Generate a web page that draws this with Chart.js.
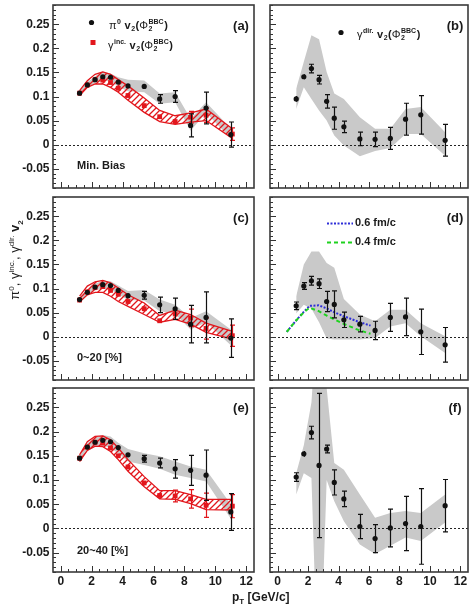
<!DOCTYPE html>
<html><head><meta charset="utf-8">
<script src="https://cdn.jsdelivr.net/npm/chart.js@4.4.0/dist/chart.umd.min.js"></script>
<style>
html,body{margin:0;padding:0;background:#fff;}
#wrap{position:relative;width:474px;height:612px;overflow:hidden;font-family:"Liberation Sans",Arial,sans-serif;}
canvas{position:absolute;}
.t{position:absolute;white-space:nowrap;color:#1a1a1a;}
#ytitle{left:-45px;top:252px;width:120px;height:16px;line-height:16px;text-align:center;transform:rotate(-90deg);font-size:13px;}
#xtitle{left:232px;top:590px;font-size:12px;font-weight:bold;}
sup,sub{font-size:8px;line-height:0;}
</style></head><body>
<div id="wrap">
<canvas id="ca" width="258" height="192" style="left:0;top:0"></canvas>
<canvas id="cb" width="206" height="192" style="left:266px;top:0"></canvas>
<canvas id="cc" width="258" height="192" style="left:0;top:192px"></canvas>
<canvas id="cd" width="206" height="192" style="left:266px;top:192px"></canvas>
<canvas id="ce" width="258" height="229" style="left:0;top:383px"></canvas>
<canvas id="cf" width="206" height="229" style="left:266px;top:383px"></canvas>
<div class="t" id="ytitle">π<sup>0</sup>, γ<sup>inc.</sup>, γ<sup>dir.</sup> <b>v</b><sub><b>2</b></sub></div>
<div class="t" id="xtitle">p<sub>T</sub> [GeV/c]</div>
</div>
<script>
// ---------------- data ----------------
const pT    = [1.22, 1.72, 2.22, 2.72, 3.22, 3.72, 4.35, 5.4, 6.4, 7.4, 8.4, 9.4, 11.0];
const pTInc = [1.22, 1.72, 2.22, 2.72, 3.22, 3.72, 4.35, 5.4, 6.4, 7.4, 8.4, 9.4, 11.1];
const yTicks = [-0.05, 0, 0.05, 0.1, 0.15, 0.2, 0.25];
const yTickLabels = ['-0.05', '0', '0.05', '0.1', '0.15', '0.2', '0.25'];
const xTicks = [0, 2, 4, 6, 8, 10, 12];
const xTickLabels = ['0', '2', '4', '6', '8', '10', '12'];

// (a) Min. Bias
const pi0A      = [0.107, 0.124, 0.135, 0.141, 0.140, 0.130, 0.122, 0.121, 0.095, 0.100, 0.040, 0.076, 0.021];
const pi0AErr   = [0.002, 0.002, 0.002, 0.002, 0.002, 0.002, 0.003, 0.004, 0.009, 0.012, 0.024, 0.033, 0.026];
const pi0ASysHi = [0.112, 0.130, 0.142, 0.152, 0.148, 0.140, 0.135, 0.133, 0.106, 0.109, 0.054, 0.088, 0.033];
const pi0ASysLo = [0.102, 0.118, 0.128, 0.132, 0.132, 0.120, 0.111, 0.109, 0.085, 0.088, 0.029, 0.066, 0.013];
const incA      = [0.107, 0.124, 0.135, 0.134, 0.129, 0.117, 0.102, 0.081, 0.058, 0.048, 0.057, 0.061, 0.022];
const incAErr   = [0.003, 0.003, 0.003, 0.003, 0.003, 0.003, 0.003, 0.004, 0.004, 0.005, 0.012, 0.015, 0.013];
const incASysHi = [0.112, 0.133, 0.146, 0.151, 0.146, 0.135, 0.122, 0.097, 0.071, 0.060, 0.066, 0.074, 0.033];
const incASysLo = [0.102, 0.119, 0.126, 0.126, 0.119, 0.109, 0.092, 0.067, 0.048, 0.042, 0.047, 0.050, 0.013];
// (b) Min. Bias direct photon
const dirB      = [0.095, 0.141, 0.158, 0.135, 0.090, 0.055, 0.037, 0.012, 0.011, 0.013, 0.053, 0.062, 0.009];
const dirBErr   = [0.006, 0.005, 0.009, 0.009, 0.014, 0.023, 0.012, 0.014, 0.015, 0.023, 0.033, 0.040, 0.033];
const dirBSysHi = [0.116, 0.172, 0.227, 0.219, 0.151, 0.106, 0.095, 0.057, 0.033, 0.033, 0.074, 0.078, 0.026];
const dirBSysLo = [0.074, 0.119, 0.095, 0.071, 0.050, 0.019, -0.002, -0.024, -0.013, -0.007, 0.022, 0.022, -0.023];
// (c) 0-20%
const pi0C      = [0.077, 0.092, 0.103, 0.108, 0.106, 0.096, 0.085, 0.086, 0.066, 0.058, 0.026, 0.040, -0.003];
const pi0CErr   = [0.002, 0.002, 0.002, 0.002, 0.002, 0.003, 0.004, 0.008, 0.016, 0.022, 0.039, 0.053, 0.040];
const pi0CSysHi = [0.082, 0.098, 0.110, 0.116, 0.115, 0.106, 0.095, 0.097, 0.077, 0.066, 0.039, 0.053, 0.015];
const pi0CSysLo = [0.072, 0.086, 0.096, 0.100, 0.098, 0.088, 0.076, 0.075, 0.053, 0.047, 0.015, 0.030, -0.018];
const incC      = [0.076, 0.093, 0.102, 0.104, 0.096, 0.088, 0.073, 0.058, 0.033, 0.047, 0.039, 0.017, 0.002];
const incCErr   = [0.003, 0.003, 0.003, 0.003, 0.003, 0.003, 0.003, 0.004, 0.004, 0.005, 0.018, 0.022, 0.022];
const incCSysHi = [0.084, 0.105, 0.114, 0.117, 0.112, 0.101, 0.087, 0.070, 0.044, 0.055, 0.046, 0.028, 0.011];
const incCSysLo = [0.072, 0.087, 0.092, 0.092, 0.084, 0.073, 0.063, 0.046, 0.030, 0.036, 0.026, 0.009, -0.005];
// (d) 0-20% direct photon + theory
const dirD      = [0.064, 0.105, 0.116, 0.110, 0.073, 0.067, 0.035, 0.026, 0.013, 0.040, 0.041, 0.010, -0.017];
const dirDErr   = [0.008, 0.007, 0.009, 0.010, 0.021, 0.028, 0.016, 0.016, 0.019, 0.029, 0.039, 0.047, 0.036];
const dirDSysHi = [0.084, 0.150, 0.177, 0.177, 0.153, 0.143, 0.078, 0.046, 0.032, 0.056, 0.056, 0.028, 0.001];
const dirDSysLo = [0.048, 0.066, 0.058, 0.030, -0.004, -0.006, -0.006, -0.006, -0.003, 0.021, 0.028, 0.001, -0.034];
const pTTheory  = [0.6, 1.2, 1.7, 2.1, 2.7, 3.2, 3.7, 4.3, 5.3, 6.1];
const theory06  = [0.010, 0.033, 0.051, 0.064, 0.065, 0.059, 0.051, 0.043, 0.031, 0.023];
const theory04  = [0.010, 0.033, 0.050, 0.060, 0.053, 0.044, 0.036, 0.027, 0.014, 0.006];
// (e) 20-40%
const pi0E      = [0.145, 0.168, 0.178, 0.182, 0.179, 0.167, 0.152, 0.144, 0.135, 0.123, 0.120, 0.110, 0.034];
const pi0EErr   = [0.003, 0.003, 0.003, 0.003, 0.003, 0.003, 0.003, 0.007, 0.010, 0.019, 0.031, 0.052, 0.038];
const pi0ESysHi = [0.150, 0.176, 0.188, 0.193, 0.190, 0.177, 0.164, 0.155, 0.149, 0.138, 0.128, 0.121, 0.050];
const pi0ESysLo = [0.140, 0.160, 0.168, 0.171, 0.166, 0.155, 0.138, 0.131, 0.123, 0.111, 0.104, 0.097, 0.020];
const incE      = [0.145, 0.168, 0.178, 0.176, 0.166, 0.150, 0.127, 0.094, 0.068, 0.067, 0.061, 0.048, 0.046];
const incEErr   = [0.004, 0.003, 0.003, 0.003, 0.003, 0.003, 0.003, 0.004, 0.004, 0.012, 0.019, 0.025, 0.024];
const incESysHi = [0.152, 0.179, 0.190, 0.191, 0.183, 0.166, 0.142, 0.107, 0.078, 0.078, 0.070, 0.060, 0.060];
const incESysLo = [0.138, 0.161, 0.170, 0.169, 0.159, 0.142, 0.118, 0.086, 0.061, 0.060, 0.051, 0.039, 0.038];
// (f) 20-40% direct photon
const dirF      = [0.106, 0.154, 0.198, 0.130, 0.164, 0.095, 0.061, 0.004, -0.021, 0.001, 0.010, 0.004, 0.047];
const dirFErr   = [0.009, 0.006, 0.013, 0.149, 0.008, 0.026, 0.016, 0.025, 0.029, 0.039, 0.056, 0.078, 0.054];
const dirFSysHi = [0.114, 0.172, 0.260, 0.500, 0.290, 0.135, 0.121, 0.070, 0.022, 0.032, 0.036, 0.032, 0.070];
const dirFSysLo = [0.070, 0.114, 0.104, -0.380, 0.100, 0.056, 0.015, -0.033, -0.053, -0.036, -0.019, -0.026, 0.012];

// ---------------- style ----------------
const FF = '"Liberation Sans", Arial, sans-serif';
const RED = '#e2161c', BLACK = '#111111', GREY = '#c9c9c9';
const BLUE = '#2e2ed8', GREEN = '#1fd21f';

function makeHatch() {
  const c = document.createElement('canvas');
  c.width = 6; c.height = 6;
  const g = c.getContext('2d');
  g.strokeStyle = RED; g.lineWidth = 1.3;
  g.beginPath();
  g.moveTo(0, 6); g.lineTo(6, 0);
  g.moveTo(-1, 1); g.lineTo(1, -1);
  g.moveTo(5, 7); g.lineTo(7, 5);
  g.stroke();
  return g.createPattern(c, 'repeat');
}
const HATCH = makeHatch();

const pts = (xs, ys) => xs.map((x, i) => ({x: x, y: ys[i]}));
function pointsDS(xs, ys, errs, style, color, r) {
  return {data: pts(xs, ys), showLine: false, pointStyle: style, pointRadius: r,
    pointBackgroundColor: color, pointBorderColor: color, pointBorderWidth: 0,
    errs: errs, errColor: color};
}
function lineDS(xs, ys, color, width, dash, fill, bg) {
  return {data: pts(xs, ys), showLine: true, pointRadius: 0, borderColor: color,
    borderWidth: width, borderDash: dash || [], fill: fill || false,
    backgroundColor: bg || 'rgba(0,0,0,0)', tension: 0};
}

const errPlugin = {
  id: 'errbars',
  beforeDatasetDraw(chart, args) {
    const ds = chart.data.datasets[args.index];
    if (!ds.errs) return;
    const ctx = chart.ctx, ys = chart.scales.y, a = chart.chartArea;
    ctx.save();
    ctx.beginPath(); ctx.rect(a.left, a.top, a.right - a.left, a.bottom - a.top); ctx.clip();
    ctx.strokeStyle = ds.errColor; ctx.lineWidth = 1.2;
    ctx.beginPath();
    args.meta.data.forEach((el, i) => {
      const v = ds.data[i].y, e = ds.errs[i];
      const y1 = ys.getPixelForValue(v + e), y2 = ys.getPixelForValue(v - e);
      const x = Math.round(el.x) + 0.5;
      ctx.moveTo(x, y1); ctx.lineTo(x, y2);
      if (Math.abs(y2 - y1) > 6) {
        ctx.moveTo(x - 2.5, y1); ctx.lineTo(x + 2.5, y1);
        ctx.moveTo(x - 2.5, y2); ctx.lineTo(x + 2.5, y2);
      }
    });
    ctx.stroke();
    ctx.restore();
  }
};

const framePlugin = {
  id: 'frame',
  afterDatasetsDraw(chart) {
    const {ctx, chartArea: a} = chart;
    const x = chart.scales.x, y = chart.scales.y;
    ctx.save();
    const y0 = Math.round(y.getPixelForValue(0)) + 0.5;
    ctx.strokeStyle = '#222'; ctx.lineWidth = 1; ctx.setLineDash([2, 2]);
    ctx.beginPath(); ctx.moveTo(a.left, y0); ctx.lineTo(a.right, y0); ctx.stroke();
    ctx.setLineDash([]);
    ctx.strokeStyle = '#333'; ctx.lineWidth = 1;
    ctx.beginPath();
    for (let k = -9; k <= 29; k++) {
      const py = Math.round(y.getPixelForValue(k / 100)) + 0.5;
      const len = (k % 5 === 0) ? 6 : 3;
      ctx.moveTo(a.left, py); ctx.lineTo(a.left + len, py);
    }
    for (let k = 0; k <= 24; k++) {
      const px = Math.round(x.getPixelForValue(k / 2)) + 0.5;
      const len = (k % 4 === 0) ? 6 : 3;
      ctx.moveTo(px, a.bottom); ctx.lineTo(px, a.bottom - len);
    }
    ctx.stroke();
    ctx.lineWidth = 1.6; ctx.strokeStyle = '#3a3a3a';
    ctx.strokeRect(a.left, a.top, a.right - a.left, a.bottom - a.top);
    ctx.restore();
  }
};
Chart.register(errPlugin, framePlugin);

// ------- text helpers (page coordinates) -------
function txt(ctx, s, x, y, size, align, weight) {
  ctx.font = (weight || 'bold') + ' ' + size + 'px ' + FF;
  ctx.fillStyle = '#1a1a1a'; ctx.textAlign = align || 'left'; ctx.textBaseline = 'middle';
  ctx.fillText(s, x, y);
}
function rich(ctx, parts, x, ymid, fs) {
  let cx = x; const base = ymid + fs * 0.36;
  ctx.fillStyle = '#1a1a1a'; ctx.textAlign = 'left'; ctx.textBaseline = 'alphabetic';
  parts.forEach(p => {
    if (p.t !== undefined) {
      ctx.font = (p.g ? 'normal ' : 'bold ') + fs + 'px ' + FF;
      ctx.fillText(p.t, cx, base); cx += ctx.measureText(p.t).width;
    } else {
      const s = Math.round(fs * 0.62);
      ctx.font = 'bold ' + s + 'px ' + FF;
      let w = 0;
      if (p.sup) { ctx.fillText(p.sup, cx + 0.5, base - fs * 0.45); w = Math.max(w, ctx.measureText(p.sup).width); }
      if (p.sub) { ctx.fillText(p.sub, cx + 0.5, base + fs * 0.22); w = Math.max(w, ctx.measureText(p.sub).width); }
      cx += w + 1;
    }
  });
}
const V2PHI = [{t: ' v'}, {sub: '2'}, {t: '('}, {t: 'Φ', g: true}, {sub: '2', sup: 'BBC'}, {t: ')'}];

function annot(ox, oy, fn) {
  return {id: 'annot', afterDraw(chart) {
    const ctx = chart.ctx; ctx.save(); ctx.translate(-ox, -oy); fn(ctx); ctx.restore();
  }};
}

function noPad(s) { s.paddingTop = 0; s.paddingBottom = 0; s.paddingLeft = 0; s.paddingRight = 0; }

function makeChart(id, isLeft, isBottom, datasets, oy, drawFn) {
  const canvas = document.getElementById(id);
  const ox = isLeft ? 0 : 266;
  return new Chart(canvas, {
    type: 'line',
    data: {datasets: datasets},
    options: {
      responsive: false, animation: false, devicePixelRatio: 1,
      layout: {padding: {left: isLeft ? 0 : 1, right: 1, top: 5, bottom: isBottom ? 0 : 3}},
      plugins: {legend: {display: false}, tooltip: {enabled: false}},
      scales: {
        x: {type: 'linear', min: -0.5, max: 12.5, display: isBottom,
          grid: {display: false, drawTicks: false}, border: {display: false},
          afterBuildTicks: s => { s.ticks = xTicks.map(v => ({value: v})); },
          afterFit: s => { s.height = isBottom ? 40 : 0; noPad(s); },
          ticks: {autoSkip: false, maxRotation: 0, padding: 2.5, color: '#1a1a1a',
            font: {family: FF, size: 12, weight: 'bold'},
            callback: (v, i) => xTickLabels[i]}},
        y: {type: 'linear', min: -0.09, max: 0.29, display: isLeft,
          grid: {display: false, drawTicks: false}, border: {display: false},
          afterBuildTicks: s => { s.ticks = yTicks.map(v => ({value: v})); },
          afterFit: s => { s.width = isLeft ? 53 : 0; noPad(s); },
          ticks: {autoSkip: false, padding: 3.5, color: '#1a1a1a',
            font: {family: FF, size: 12, weight: 'bold'},
            callback: (v, i) => yTickLabels[i]}}
      }
    },
    plugins: [annot(ox, oy, drawFn)]
  });
}

function leftSets(pi0, pi0Err, pi0Hi, pi0Lo, inc, incErr, incHi, incLo) {
  return [
    pointsDS(pT, pi0, pi0Err, 'circle', BLACK, 2.6),
    pointsDS(pTInc, inc, incErr, 'rect', RED, 3.4),
    lineDS(pTInc, incHi, RED, 1.3),
    lineDS(pTInc, incLo, RED, 1.3, null, '-1', HATCH),
    lineDS(pT, pi0Hi, 'rgba(0,0,0,0)', 0),
    lineDS(pT, pi0Lo, 'rgba(0,0,0,0)', 0, null, '-1', GREY)
  ];
}
function rightSets(dir, err, hi, lo) {
  return [
    pointsDS(pT, dir, err, 'circle', BLACK, 2.6),
    lineDS(pT, hi, 'rgba(0,0,0,0)', 0),
    lineDS(pT, lo, 'rgba(0,0,0,0)', 0, null, '-1', GREY)
  ];
}

// (a)
makeChart('ca', true, false, leftSets(pi0A, pi0AErr, pi0ASysHi, pi0ASysLo, incA, incAErr, incASysHi, incASysLo), 0, ctx => {
  txt(ctx, '(a)', 241, 26, 13, 'center');
  txt(ctx, 'Min. Bias', 77, 166, 11);
  ctx.fillStyle = BLACK; ctx.beginPath(); ctx.arc(91.5, 22.5, 2.6, 0, Math.PI * 2); ctx.fill();
  rich(ctx, [{t: 'π', g: true}, {sup: '0'}].concat(V2PHI), 109, 25, 11);
  ctx.fillStyle = RED; ctx.fillRect(90.5, 40, 5, 5);
  rich(ctx, [{t: 'γ', g: true}, {sup: 'inc.'}].concat(V2PHI), 108, 45, 11);
});
// (b)
makeChart('cb', false, false, rightSets(dirB, dirBErr, dirBSysHi, dirBSysLo), 0, ctx => {
  txt(ctx, '(b)', 455, 26, 13, 'center');
  ctx.fillStyle = BLACK; ctx.beginPath(); ctx.arc(341, 32.5, 2.6, 0, Math.PI * 2); ctx.fill();
  rich(ctx, [{t: 'γ', g: true}, {sup: 'dir.'}].concat(V2PHI), 357, 34, 11);
});
// (c)
makeChart('cc', true, false, leftSets(pi0C, pi0CErr, pi0CSysHi, pi0CSysLo, incC, incCErr, incCSysHi, incCSysLo), 192, ctx => {
  txt(ctx, '(c)', 241, 218, 13, 'center');
  txt(ctx, '0~20 [%]', 77, 358, 11);
});
// (d)
const setsD = rightSets(dirD, dirDErr, dirDSysHi, dirDSysLo);
setsD.splice(1, 0,
  lineDS(pTTheory, theory04, GREEN, 2, [4, 3]),
  lineDS(pTTheory, theory06, BLUE, 2, [2, 1.5]));
makeChart('cd', false, false, setsD, 192, ctx => {
  txt(ctx, '(d)', 455, 218, 13, 'center');
  ctx.lineWidth = 2;
  ctx.strokeStyle = BLUE; ctx.setLineDash([2, 1.5]);
  ctx.beginPath(); ctx.moveTo(327, 223.5); ctx.lineTo(353, 223.5); ctx.stroke();
  ctx.strokeStyle = GREEN; ctx.setLineDash([4, 3]);
  ctx.beginPath(); ctx.moveTo(327, 242.5); ctx.lineTo(353, 242.5); ctx.stroke();
  ctx.setLineDash([]);
  txt(ctx, '0.6 fm/c', 355, 223, 11);
  txt(ctx, '0.4 fm/c', 355, 242, 11);
});
// (e)
makeChart('ce', true, true, leftSets(pi0E, pi0EErr, pi0ESysHi, pi0ESysLo, incE, incEErr, incESysHi, incESysLo), 383, ctx => {
  txt(ctx, '(e)', 241, 408, 13, 'center');
  txt(ctx, '20~40 [%]', 77, 551, 11);
});
// (f)
makeChart('cf', false, true, rightSets(dirF, dirFErr, dirFSysHi, dirFSysLo), 383, ctx => {
  txt(ctx, '(f)', 455, 408, 13, 'center');
});
</script>
</body></html>
